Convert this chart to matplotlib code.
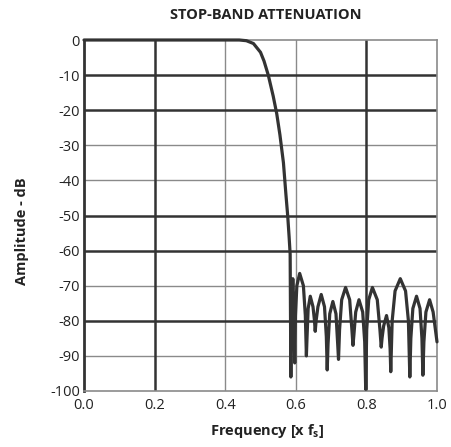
import matplotlib
matplotlib.use("Agg")
import matplotlib.pyplot as plt

plt.rcParams['font.family'] = ['Open Sans', 'DejaVu Sans']

# Frequency response (freq in x fs, amplitude in dB)
freq = [0.0, 0.20, 0.44, 0.46, 0.48, 0.50, 0.51, 0.522, 0.536, 0.546, 0.555, 0.565,
        0.572, 0.577, 0.581, 0.584, 0.586,
        0.5875, 0.589, 0.5905, 0.5915, 0.594, 0.597,
        0.599, 0.603, 0.611, 0.6215, 0.627, 0.630,
        0.6317, 0.635, 0.641, 0.6487, 0.653, 0.655,
        0.6575, 0.6627, 0.672, 0.6813, 0.6865, 0.689,
        0.6914, 0.6962, 0.705, 0.7138, 0.7186, 0.721,
        0.724, 0.730, 0.741, 0.7526, 0.7589, 0.762,
        0.7646, 0.7697, 0.779, 0.7895, 0.7952, 0.798,
        0.8009, 0.8066, 0.817, 0.8308, 0.8383, 0.842,
        0.8443, 0.8488, 0.857, 0.8636, 0.8672, 0.869,
        0.873, 0.8812, 0.896, 0.9109, 0.919, 0.923,
        0.9259, 0.9316, 0.942, 0.9519, 0.9573, 0.960,
        0.9629, 0.9686, 0.979, 0.989, 1.0]
amp_db = [0.0, 0.0, 0.0, -0.2, -1.0, -3.5, -6.0, -10.0, -16.0, -21.0, -27.0, -35.0,
          -44.0, -50.0, -56.0, -61.0, -96.0,
          -72.0, -68.5, -71.0, -68.0, -74.0, -92.0,
          -78.5, -70.0, -66.5, -70.0, -78.5, -90.0,
          -85.0, -76.5, -73.0, -76.0, -80.0, -83.0,
          -80.0, -76.0, -72.5, -76.0, -84.5, -94.0,
          -86.5, -78.0, -74.5, -78.0, -86.5, -91.0,
          -82.5, -74.0, -70.5, -74.0, -82.5, -87.0,
          -84.0, -77.5, -74.0, -77.5, -86.0, -99.5,
          -82.5, -74.0, -70.5, -74.0, -82.5, -87.5,
          -85.0, -81.5, -78.5, -82.0, -88.0, -94.5,
          -80.0, -71.5, -68.0, -71.5, -80.0, -96.0,
          -85.0, -76.5, -73.0, -76.5, -85.0, -95.5,
          -86.0, -77.5, -74.0, -77.5, -86.0]

x_ticks = [0.0, 0.2, 0.4, 0.6, 0.8, 1.0]
x_tick_labels = ['0.0', '0.2', '0.4', '0.6', '0.8', '1.0']
y_ticks = [0, -10, -20, -30, -40, -50, -60, -70, -80, -90, -100]
y_tick_labels = ['0', '-10', '-20', '-30', '-40', '-50', '-60', '-70', '-80', '-90', '-100']
thick_x = [0.2, 0.8]
thin_x = [0.4, 0.6]
thick_y = [-10, -20, -50, -60, -80]
thin_y = [-30, -40, -70, -90]

W, H = 451, 447
fig = plt.figure(figsize=(W / 100, H / 100), dpi=100)
ax = fig.add_axes([84 / W, 1 - 391 / H, 353 / W, 351 / H])

dark = '#333333'
gray = '#8a8a8a'

for xv in thin_x:
    ax.axvline(xv, color=gray, lw=1.0, zorder=1)
for yv in thin_y:
    ax.axhline(yv, color=gray, lw=1.0, zorder=1)
for xv in thick_x:
    ax.axvline(xv, color=dark, lw=1.8, zorder=1.5)
for yv in thick_y:
    ax.axhline(yv, color=dark, lw=1.8, zorder=1.5)

ax.plot(freq, amp_db, color=dark, lw=2.3, solid_joinstyle='round',
        solid_capstyle='round', zorder=3, clip_on=False)

ax.set_xlim(0, 1.0)
ax.set_ylim(-100, 0)
ax.set_xticks(x_ticks)
ax.set_xticklabels(x_tick_labels)
ax.set_yticks(y_ticks)
ax.set_yticklabels(y_tick_labels)
ax.tick_params(length=0, labelsize=10.5, colors='#222222', pad=3)
ax.tick_params(axis='x', pad=5)

for s in ['top', 'right', 'bottom']:
    ax.spines[s].set_color(gray)
    ax.spines[s].set_linewidth(1.2)
ax.spines['left'].set_color(dark)
ax.spines['left'].set_linewidth(2.0)

fig.text(266 / W, 1 - 15 / H, 'STOP-BAND ATTENUATION', ha='center', va='center',
         fontsize=10.5, fontweight='bold', color='#222222')
fig.text(267 / W, 1 - 431 / H, 'Frequency [x f$_\\mathregular{s}$]', ha='center', va='center',
         fontsize=10.5, fontweight='bold', color='#222222')
fig.text(22 / W, 1 - 231 / H, 'Amplitude - dB', ha='center', va='center', rotation=90,
         fontsize=10.5, fontweight='bold', color='#222222')

fig.savefig('out.png', dpi=100)
